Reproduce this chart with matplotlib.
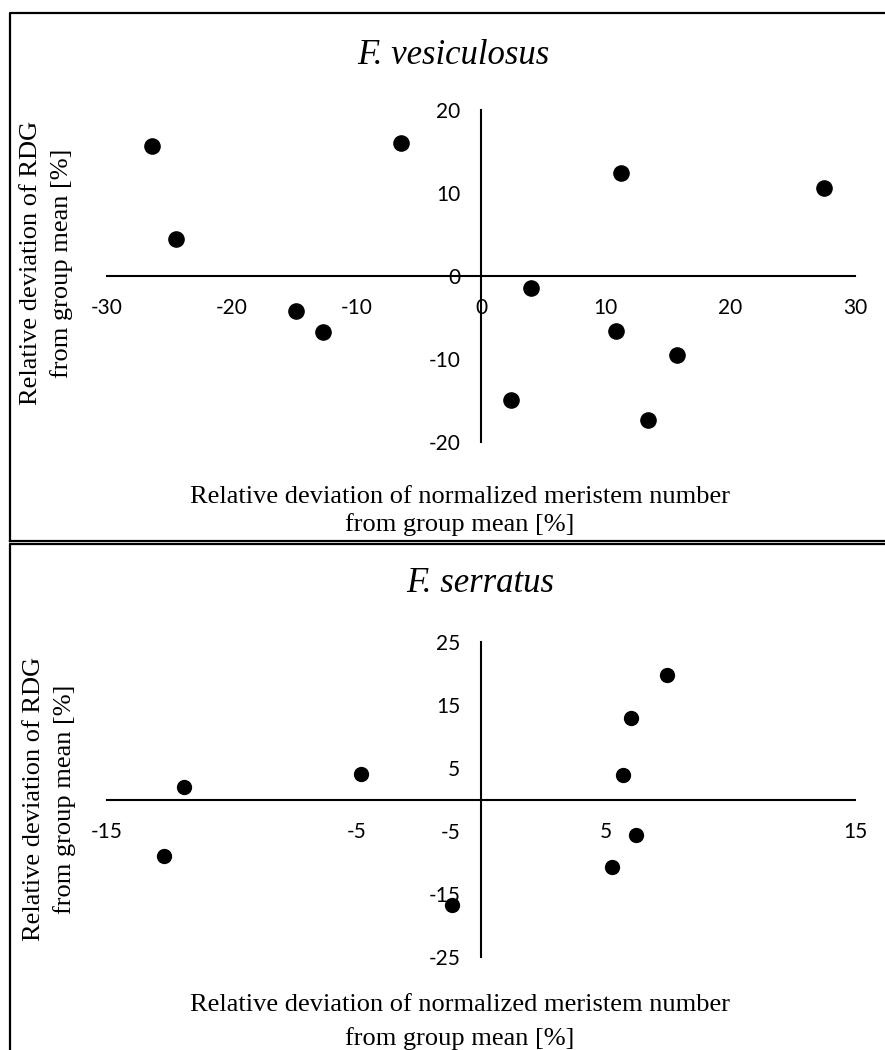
import matplotlib.pyplot as plt
from matplotlib.lines import Line2D

# data
ves_x = [-26.4, -24.5, -14.8, -12.7, -6.4, 2.4, 4.0, 10.8, 11.2, 13.4, 15.7, 27.5]
ves_y = [15.7, 4.5, -4.2, -6.8, 16.0, -14.9, -1.4, -6.6, 12.4, -17.3, -9.5, 10.6]
ves_xticks = [-30, -20, -10, 0, 10, 20, 30]
ves_yticks = [-20, -10, 0, 10, 20]

ser_x = [-12.7, -11.9, -4.8, -1.15, 5.25, 5.7, 6.0, 6.2, 7.45]
ser_y = [-9.0, 2.0, 4.1, -16.8, -10.7, 3.9, 12.9, -5.7, 19.8]
ser_xticks = [-15, -5, 5, 15]
ser_yticks = [-25, -15, -5, 5, 15, 25]

W, H = 885, 1050
fig = plt.figure(figsize=(W / 100, H / 100), dpi=100)

def fx(px):
    return px / W

def fy(py):
    return 1 - py / H

tick_font = 'Lato'
serif = 'Liberation Serif'


def panel(top, bottom, xlim, ylim, xs, ys, xticks, yticks, size):
    ax = fig.add_axes([fx(107), fy(bottom), fx(855) - fx(107), fy(top) - fy(bottom)])
    ax.scatter(xs, ys, s=size, color='black', zorder=3, clip_on=False)
    ax.set_xlim(*xlim)
    ax.set_ylim(*ylim)
    ax.spines['left'].set_position(('data', 0))
    ax.spines['bottom'].set_position(('data', 0))
    for s in ['top', 'right']:
        ax.spines[s].set_visible(False)
    for s in ['left', 'bottom']:
        ax.spines[s].set_linewidth(1.5)
    ax.set_xticks(xticks)
    ax.set_yticks(yticks)
    ax.set_xticklabels([str(t) for t in xticks], fontname=tick_font, fontsize=15)
    ax.set_yticklabels([str(t) for t in yticks], fontname=tick_font, fontsize=15)
    ax.tick_params(axis='x', length=0, pad=16)
    ax.tick_params(axis='y', length=0, pad=15)
    ax.patch.set_visible(False)
    return ax


panel(110, 442, (-30, 30), (-20, 20), ves_x, ves_y, ves_xticks, ves_yticks, 120)
panel(642, 957, (-15, 15), (-25, 25), ser_x, ser_y, ser_xticks, ser_yticks, 100)

# titles
fig.text(fx(453), fy(55), 'F. vesiculosus', fontname=serif, style='italic',
         fontsize=25, ha='center', va='center')
fig.text(fx(480), fy(583), 'F. serratus', fontname=serif, style='italic',
         fontsize=25, ha='center', va='center')

# axis labels
fig.text(fx(460), fy(497), 'Relative deviation of normalized meristem number',
         fontname=serif, fontsize=19, ha='center', va='center')
fig.text(fx(460), fy(525), 'from group mean [%]',
         fontname=serif, fontsize=19, ha='center', va='center')
fig.text(fx(460), fy(1005), 'Relative deviation of normalized meristem number',
         fontname=serif, fontsize=19, ha='center', va='center')
fig.text(fx(460), fy(1039), 'from group mean [%]',
         fontname=serif, fontsize=19, ha='center', va='center')

fig.text(fx(31), fy(263), 'Relative deviation of RDG', fontname=serif, fontsize=19,
         rotation=90, ha='center', va='center')
fig.text(fx(62), fy(263), 'from group mean [%]', fontname=serif, fontsize=19,
         rotation=90, ha='center', va='center')
fig.text(fx(34), fy(799), 'Relative deviation of RDG', fontname=serif, fontsize=19,
         rotation=90, ha='center', va='center')
fig.text(fx(65), fy(799), 'from group mean [%]', fontname=serif, fontsize=19,
         rotation=90, ha='center', va='center')

# panel frames
frame = dict(color='black', linewidth=1.6, transform=fig.transFigure)
fig.add_artist(Line2D([fx(10), fx(10), 1.0], [fy(541), fy(13), fy(13)], **frame))
fig.add_artist(Line2D([fx(10), 1.0], [fy(541), fy(541)], **frame))
fig.add_artist(Line2D([fx(10), fx(10), 1.0], [0.0, fy(544), fy(544)], **frame))

fig.savefig('out.png', dpi=100)
